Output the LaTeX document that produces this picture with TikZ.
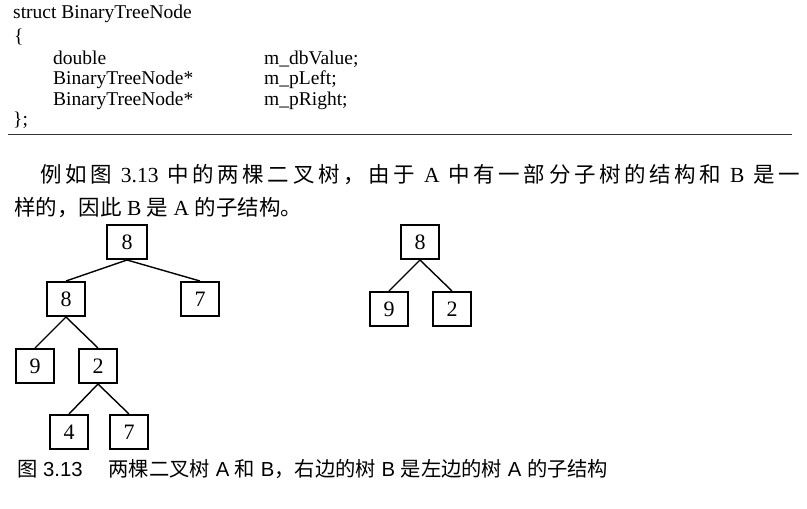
\documentclass[tikz,border=0pt]{standalone}
\usepackage{fontspec}
\setmainfont{Liberation Serif}
\newfontfamily\cjk{Noto Sans CJK SC}
\newfontfamily\capfont{Liberation Sans}
\newcommand\zg{\hskip 0pt plus 1fil\relax}
\tikzset{
  codetxt/.style={anchor=base west, inner sep=0pt, font=\fontsize{19.5}{20}\selectfont},
  bodytxt/.style={anchor=base west, inner sep=0pt, font=\fontsize{21.5}{22}\selectfont},
  captxt/.style={anchor=base west, inner sep=0pt, font=\fontsize{20.3}{22}\selectfont\capfont},
  treebox/.style={draw, line width=2pt, minimum width=38pt, minimum height=34pt, inner sep=0pt, font=\fontsize{22}{22}\selectfont},
  treeedge/.style={line width=1.4pt},
}
\begin{document}
\begin{tikzpicture}[x=1pt,y=-1pt]
\useasboundingbox (0,0) rectangle (807,509);
% code
\node[codetxt] (c1) at (13,18) {struct BinaryTreeNode};
\node[codetxt] (c2) at (14,42) {\{};
\node[codetxt] (c3a) at (53,64) {double};
\node[codetxt] (c3b) at (264,64) {m\_dbValue;};
\node[codetxt] (c4a) at (53,84.5) {BinaryTreeNode*};
\node[codetxt] (c4b) at (264,84.5) {m\_pLeft;};
\node[codetxt] (c5a) at (53,105) {BinaryTreeNode*};
\node[codetxt] (c5b) at (264,105) {m\_pRight;};
\node[codetxt] (c6) at (13,125) {\};};
\draw[line width=1.2pt, black!80] (8,134.5) -- (792,134.5);
% paragraph
\node[bodytxt] (p1) at (40,182) {\hbox to 760pt{{\cjk 例\zg 如\zg 图}\zg\ 3.13\ \zg{\cjk 中\zg 的\zg 两\zg 棵\zg 二\zg 叉\zg 树\zg ，\zg 由\zg 于}\zg\ A\ \zg{\cjk 中\zg 有\zg 一\zg 部\zg 分\zg 子\zg 树\zg 的\zg 结\zg 构\zg 和}\zg\ B\ \zg{\cjk 是\zg 一}}};
\node[bodytxt] (p2) at (14,215) {{\cjk 样的，因此} B {\cjk 是} A {\cjk 的子结构。}};
% tree A
\node[treebox, minimum width=40pt] (a1) at (127,242) {8};
\node[treebox] (a2) at (66,299) {8};
\node[treebox] (a3) at (200,299) {7};
\node[treebox] (a4) at (35,366) {9};
\node[treebox] (a5) at (98,366) {2};
\node[treebox] (a6) at (69,432) {4};
\node[treebox] (a7) at (129,432) {7};
\draw[treeedge] (a1.south) -- (a2.north);
\draw[treeedge] (a1.south) -- (a3.north);
\draw[treeedge] (a2.south) -- (a4.north);
\draw[treeedge] (a2.south) -- (a5.north);
\draw[treeedge] (a5.south) -- (a6.north);
\draw[treeedge] (a5.south) -- (a7.north);
% tree B
\node[treebox] (b1) at (420,242) {8};
\node[treebox] (b2) at (389,309) {9};
\node[treebox] (b3) at (452,309) {2};
\draw[treeedge] (b1.south) -- (b2.north);
\draw[treeedge] (b1.south) -- (b3.north);
% caption
\node[captxt] (cap) at (17,476) {{\cjk 图} 3.13\hspace{26pt}{\cjk 两棵二叉树} A {\cjk 和} B{\cjk ，右边的树} B {\cjk 是左边的树} A {\cjk 的子结构}};
\end{tikzpicture}
\end{document}
